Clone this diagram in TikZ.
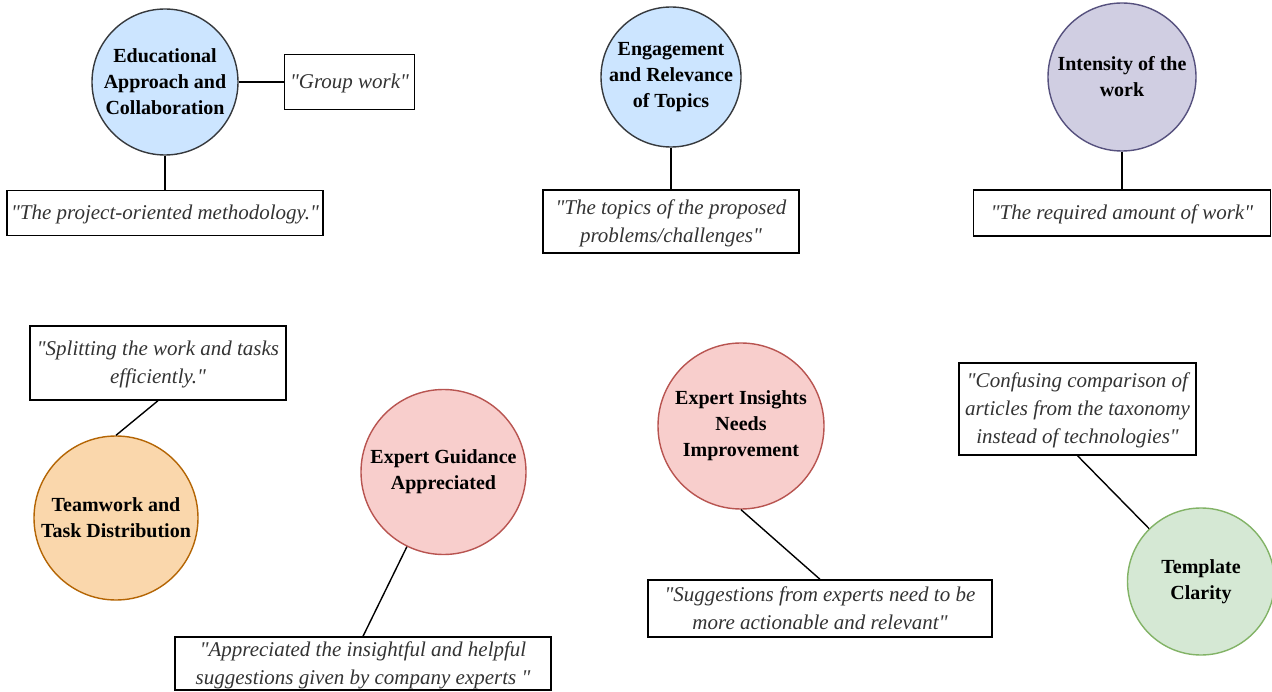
\documentclass[tikz,border=0pt]{standalone}
\usepackage{fontspec}
\setmainfont{Liberation Serif}
\definecolor{bluefill}{HTML}{CCE5FF}
\definecolor{blueline}{HTML}{36393D}
\definecolor{purplefill}{HTML}{D0CEE2}
\definecolor{purpleline}{HTML}{56517E}
\definecolor{orangefill}{HTML}{FAD7AC}
\definecolor{orangeline}{HTML}{B46504}
\definecolor{redfill}{HTML}{F8CECC}
\definecolor{redline}{HTML}{B85450}
\definecolor{greenfill}{HTML}{D5E8D4}
\definecolor{greenline}{HTML}{82B366}
\definecolor{quotegray}{HTML}{333333}
% straight double quote glyph, taken directly from the current font
\newcommand{\dq}{\XeTeXglyph\XeTeXcharglyph34\relax}
\tikzset{
  theme/.style n args={4}{circle, draw=#3, fill=#2, line width=1.4pt,
    minimum size=#1, inner sep=0pt,
    label={[align=center, text=black, font=\bfseries\fontsize{20}{26}\selectfont]center:#4}},
  quote/.style={draw=black, line width=1.4pt, fill=white, align=center,
    text=quotegray, font=\itshape\fontsize{21}{28}\selectfont,
    inner sep=0pt, text depth=1pt},
  link/.style={draw=black, line width=1.4pt}
}
\begin{document}
\begin{tikzpicture}[x=1pt, y=-1pt]
\useasboundingbox[fill=white] (0,0) rectangle (1272,692);

% theme circles
\node[theme={146pt}{bluefill}{blueline}{Educational\\Approach and\\Collaboration}] (edu) at (165,82) {};
\node[theme={140pt}{bluefill}{blueline}{Engagement\\and Relevance\\of Topics}] (eng) at (671,77) {};
\node[theme={148pt}{purplefill}{purpleline}{Intensity of the\\work}] (int) at (1122,77) {};
\node[theme={164pt}{orangefill}{orangeline}{Teamwork and\\Task Distribution}] (team) at (116,518) {};
\node[theme={165pt}{redfill}{redline}{Expert Guidance\\Appreciated}] (guid) at (443.5,472) {};
\node[theme={166pt}{redfill}{redline}{Expert Insights\\Needs\\Improvement}] (ins) at (741,426) {};
\node[theme={147pt}{greenfill}{greenline}{Template\\Clarity}] (tmpl) at (1201,581.5) {};

% quotation boxes
\node[quote, minimum width=130pt, minimum height=55pt] (qgroup) at (349.5,82) {\dq Group work\dq};
\node[quote, minimum width=316pt, minimum height=45pt] (qproj) at (165,213) {\dq The project-oriented methodology.\dq};
\node[quote, minimum width=256pt, minimum height=63pt] (qtopic) at (671,221.5) {\dq The topics of the proposed\\problems/challenges\dq};
\node[quote, minimum width=297pt, minimum height=46pt] (qwork) at (1122,213) {\dq The required amount of work\dq};
\node[quote, minimum width=256pt, minimum height=74pt] (qsplit) at (158,363) {\dq Splitting the work and tasks\\efficiently.\dq};
\node[quote, minimum width=376pt, minimum height=53pt] (qappr) at (363,663.5) {\dq Appreciated the insightful and helpful\\suggestions given by company experts \dq};
\node[quote, minimum width=344pt, minimum height=57pt] (qsugg) at (820,608.5) {\dq Suggestions from experts need to be\\more actionable and relevant\dq};
\node[quote, minimum width=237pt, minimum height=92pt] (qconf) at (1077.5,409) {\dq Confusing comparison of\\articles from the taxonomy\\instead of technologies\dq};

% connectors
\draw[link] (edu.east) -- (qgroup.west);
\draw[link] (edu.south) -- (qproj.north);
\draw[link] (eng.south) -- (qtopic.north);
\draw[link] (int.south) -- (qwork.north);
\draw[link] (qsplit.south) -- (team.north);
\draw[link] (qappr.north) -- (guid);
\draw[link] (qsugg.north) -- (ins.south);
\draw[link] (qconf.south) -- (tmpl);
\end{tikzpicture}
\end{document}
